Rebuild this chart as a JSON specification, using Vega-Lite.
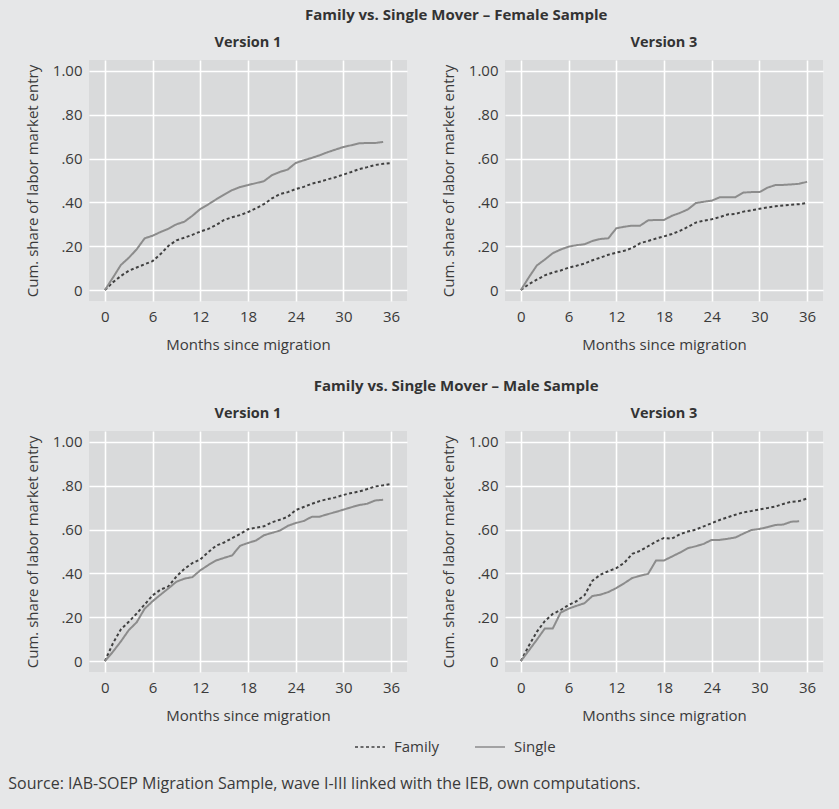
{
  "$schema": "https://vega.github.io/schema/vega-lite/v6.json",
  "background": "#e6e7e8",
  "padding": {"left": 8, "top": 7, "right": 16, "bottom": 17},
  "title": {"text": "Source: IAB-SOEP Migration Sample, wave I-III linked with the IEB, own computations.", "orient": "bottom", "anchor": "start", "fontSize": 16, "fontWeight": "normal", "font": "Open Sans", "color": "#3a3a3a", "offset": 21, "dx": -17},
  "datasets": {
    "f1": [
      {"group":"Family","month":0,"share":0},{"group":"Family","month":1,"share":0.035},{"group":"Family","month":2,"share":0.064},{"group":"Family","month":3,"share":0.088},{"group":"Family","month":4,"share":0.103},{"group":"Family","month":5,"share":0.118},{"group":"Family","month":6,"share":0.132},{"group":"Family","month":7,"share":0.164},{"group":"Family","month":8,"share":0.202},{"group":"Family","month":9,"share":0.227},{"group":"Family","month":10,"share":0.239},{"group":"Family","month":11,"share":0.252},{"group":"Family","month":12,"share":0.267},{"group":"Family","month":13,"share":0.279},{"group":"Family","month":14,"share":0.297},{"group":"Family","month":15,"share":0.32},{"group":"Family","month":16,"share":0.332},{"group":"Family","month":17,"share":0.342},{"group":"Family","month":18,"share":0.356},{"group":"Family","month":19,"share":0.373},{"group":"Family","month":20,"share":0.392},{"group":"Family","month":21,"share":0.418},{"group":"Family","month":22,"share":0.438},{"group":"Family","month":23,"share":0.447},{"group":"Family","month":24,"share":0.461},{"group":"Family","month":25,"share":0.471},{"group":"Family","month":26,"share":0.485},{"group":"Family","month":27,"share":0.494},{"group":"Family","month":28,"share":0.505},{"group":"Family","month":29,"share":0.515},{"group":"Family","month":30,"share":0.527},{"group":"Family","month":31,"share":0.539},{"group":"Family","month":32,"share":0.552},{"group":"Family","month":33,"share":0.561},{"group":"Family","month":34,"share":0.571},{"group":"Family","month":35,"share":0.576},{"group":"Family","month":36,"share":0.58},
      {"group":"Single","month":0,"share":0},{"group":"Single","month":1,"share":0.056},{"group":"Single","month":2,"share":0.114},{"group":"Single","month":3,"share":0.147},{"group":"Single","month":4,"share":0.186},{"group":"Single","month":5,"share":0.236},{"group":"Single","month":6,"share":0.248},{"group":"Single","month":7,"share":0.265},{"group":"Single","month":8,"share":0.28},{"group":"Single","month":9,"share":0.3},{"group":"Single","month":10,"share":0.312},{"group":"Single","month":11,"share":0.339},{"group":"Single","month":12,"share":0.37},{"group":"Single","month":13,"share":0.391},{"group":"Single","month":14,"share":0.414},{"group":"Single","month":15,"share":0.436},{"group":"Single","month":16,"share":0.456},{"group":"Single","month":17,"share":0.47},{"group":"Single","month":18,"share":0.479},{"group":"Single","month":19,"share":0.488},{"group":"Single","month":20,"share":0.497},{"group":"Single","month":21,"share":0.524},{"group":"Single","month":22,"share":0.539},{"group":"Single","month":23,"share":0.55},{"group":"Single","month":24,"share":0.58},{"group":"Single","month":25,"share":0.592},{"group":"Single","month":26,"share":0.603},{"group":"Single","month":27,"share":0.615},{"group":"Single","month":28,"share":0.629},{"group":"Single","month":29,"share":0.641},{"group":"Single","month":30,"share":0.653},{"group":"Single","month":31,"share":0.661},{"group":"Single","month":32,"share":0.67},{"group":"Single","month":33,"share":0.671},{"group":"Single","month":34,"share":0.671},{"group":"Single","month":35,"share":0.676}
    ],
    "f3": [
      {"group":"Family","month":0,"share":0},{"group":"Family","month":1,"share":0.027},{"group":"Family","month":2,"share":0.047},{"group":"Family","month":3,"share":0.067},{"group":"Family","month":4,"share":0.08},{"group":"Family","month":5,"share":0.089},{"group":"Family","month":6,"share":0.102},{"group":"Family","month":7,"share":0.111},{"group":"Family","month":8,"share":0.121},{"group":"Family","month":9,"share":0.136},{"group":"Family","month":10,"share":0.148},{"group":"Family","month":11,"share":0.161},{"group":"Family","month":12,"share":0.171},{"group":"Family","month":13,"share":0.179},{"group":"Family","month":14,"share":0.192},{"group":"Family","month":15,"share":0.214},{"group":"Family","month":16,"share":0.224},{"group":"Family","month":17,"share":0.235},{"group":"Family","month":18,"share":0.245},{"group":"Family","month":19,"share":0.256},{"group":"Family","month":20,"share":0.27},{"group":"Family","month":21,"share":0.288},{"group":"Family","month":22,"share":0.308},{"group":"Family","month":23,"share":0.317},{"group":"Family","month":24,"share":0.323},{"group":"Family","month":25,"share":0.333},{"group":"Family","month":26,"share":0.345},{"group":"Family","month":27,"share":0.348},{"group":"Family","month":28,"share":0.358},{"group":"Family","month":29,"share":0.364},{"group":"Family","month":30,"share":0.371},{"group":"Family","month":31,"share":0.377},{"group":"Family","month":32,"share":0.382},{"group":"Family","month":33,"share":0.386},{"group":"Family","month":34,"share":0.389},{"group":"Family","month":35,"share":0.392},{"group":"Family","month":36,"share":0.397},
      {"group":"Single","month":0,"share":0},{"group":"Single","month":1,"share":0.058},{"group":"Single","month":2,"share":0.112},{"group":"Single","month":3,"share":0.139},{"group":"Single","month":4,"share":0.168},{"group":"Single","month":5,"share":0.185},{"group":"Single","month":6,"share":0.198},{"group":"Single","month":7,"share":0.205},{"group":"Single","month":8,"share":0.209},{"group":"Single","month":9,"share":0.224},{"group":"Single","month":10,"share":0.233},{"group":"Single","month":11,"share":0.236},{"group":"Single","month":12,"share":0.282},{"group":"Single","month":13,"share":0.289},{"group":"Single","month":14,"share":0.294},{"group":"Single","month":15,"share":0.294},{"group":"Single","month":16,"share":0.318},{"group":"Single","month":17,"share":0.32},{"group":"Single","month":18,"share":0.32},{"group":"Single","month":19,"share":0.339},{"group":"Single","month":20,"share":0.352},{"group":"Single","month":21,"share":0.368},{"group":"Single","month":22,"share":0.397},{"group":"Single","month":23,"share":0.403},{"group":"Single","month":24,"share":0.408},{"group":"Single","month":25,"share":0.423},{"group":"Single","month":26,"share":0.423},{"group":"Single","month":27,"share":0.424},{"group":"Single","month":28,"share":0.445},{"group":"Single","month":29,"share":0.447},{"group":"Single","month":30,"share":0.447},{"group":"Single","month":31,"share":0.467},{"group":"Single","month":32,"share":0.479},{"group":"Single","month":33,"share":0.48},{"group":"Single","month":34,"share":0.482},{"group":"Single","month":35,"share":0.485},{"group":"Single","month":36,"share":0.494}
    ],
    "m1": [
      {"group":"Family","month":0,"share":0},{"group":"Family","month":1,"share":0.08},{"group":"Family","month":2,"share":0.144},{"group":"Family","month":3,"share":0.179},{"group":"Family","month":4,"share":0.217},{"group":"Family","month":5,"share":0.258},{"group":"Family","month":6,"share":0.3},{"group":"Family","month":7,"share":0.326},{"group":"Family","month":8,"share":0.341},{"group":"Family","month":9,"share":0.386},{"group":"Family","month":10,"share":0.421},{"group":"Family","month":11,"share":0.447},{"group":"Family","month":12,"share":0.464},{"group":"Family","month":13,"share":0.497},{"group":"Family","month":14,"share":0.527},{"group":"Family","month":15,"share":0.541},{"group":"Family","month":16,"share":0.561},{"group":"Family","month":17,"share":0.58},{"group":"Family","month":18,"share":0.602},{"group":"Family","month":19,"share":0.609},{"group":"Family","month":20,"share":0.615},{"group":"Family","month":21,"share":0.633},{"group":"Family","month":22,"share":0.645},{"group":"Family","month":23,"share":0.658},{"group":"Family","month":24,"share":0.689},{"group":"Family","month":25,"share":0.703},{"group":"Family","month":26,"share":0.717},{"group":"Family","month":27,"share":0.73},{"group":"Family","month":28,"share":0.739},{"group":"Family","month":29,"share":0.747},{"group":"Family","month":30,"share":0.758},{"group":"Family","month":31,"share":0.767},{"group":"Family","month":32,"share":0.774},{"group":"Family","month":33,"share":0.785},{"group":"Family","month":34,"share":0.797},{"group":"Family","month":35,"share":0.802},{"group":"Family","month":36,"share":0.808},
      {"group":"Single","month":0,"share":0},{"group":"Single","month":1,"share":0.042},{"group":"Single","month":2,"share":0.089},{"group":"Single","month":3,"share":0.141},{"group":"Single","month":4,"share":0.177},{"group":"Single","month":5,"share":0.239},{"group":"Single","month":6,"share":0.273},{"group":"Single","month":7,"share":0.303},{"group":"Single","month":8,"share":0.332},{"group":"Single","month":9,"share":0.362},{"group":"Single","month":10,"share":0.376},{"group":"Single","month":11,"share":0.383},{"group":"Single","month":12,"share":0.414},{"group":"Single","month":13,"share":0.438},{"group":"Single","month":14,"share":0.459},{"group":"Single","month":15,"share":0.471},{"group":"Single","month":16,"share":0.482},{"group":"Single","month":17,"share":0.526},{"group":"Single","month":18,"share":0.539},{"group":"Single","month":19,"share":0.55},{"group":"Single","month":20,"share":0.574},{"group":"Single","month":21,"share":0.585},{"group":"Single","month":22,"share":0.595},{"group":"Single","month":23,"share":0.617},{"group":"Single","month":24,"share":0.63},{"group":"Single","month":25,"share":0.639},{"group":"Single","month":26,"share":0.658},{"group":"Single","month":27,"share":0.659},{"group":"Single","month":28,"share":0.67},{"group":"Single","month":29,"share":0.68},{"group":"Single","month":30,"share":0.691},{"group":"Single","month":31,"share":0.702},{"group":"Single","month":32,"share":0.712},{"group":"Single","month":33,"share":0.718},{"group":"Single","month":34,"share":0.733},{"group":"Single","month":35,"share":0.736}
    ],
    "m3": [
      {"group":"Family","month":0,"share":0},{"group":"Family","month":1,"share":0.07},{"group":"Family","month":2,"share":0.133},{"group":"Family","month":3,"share":0.182},{"group":"Family","month":4,"share":0.215},{"group":"Family","month":5,"share":0.233},{"group":"Family","month":6,"share":0.256},{"group":"Family","month":7,"share":0.273},{"group":"Family","month":8,"share":0.3},{"group":"Family","month":9,"share":0.367},{"group":"Family","month":10,"share":0.394},{"group":"Family","month":11,"share":0.41},{"group":"Family","month":12,"share":0.424},{"group":"Family","month":13,"share":0.448},{"group":"Family","month":14,"share":0.489},{"group":"Family","month":15,"share":0.503},{"group":"Family","month":16,"share":0.524},{"group":"Family","month":17,"share":0.545},{"group":"Family","month":18,"share":0.562},{"group":"Family","month":19,"share":0.559},{"group":"Family","month":20,"share":0.579},{"group":"Family","month":21,"share":0.591},{"group":"Family","month":22,"share":0.6},{"group":"Family","month":23,"share":0.615},{"group":"Family","month":24,"share":0.629},{"group":"Family","month":25,"share":0.644},{"group":"Family","month":26,"share":0.656},{"group":"Family","month":27,"share":0.668},{"group":"Family","month":28,"share":0.679},{"group":"Family","month":29,"share":0.685},{"group":"Family","month":30,"share":0.692},{"group":"Family","month":31,"share":0.698},{"group":"Family","month":32,"share":0.705},{"group":"Family","month":33,"share":0.717},{"group":"Family","month":34,"share":0.727},{"group":"Family","month":35,"share":0.73},{"group":"Family","month":36,"share":0.742},
      {"group":"Single","month":0,"share":0},{"group":"Single","month":1,"share":0.048},{"group":"Single","month":2,"share":0.097},{"group":"Single","month":3,"share":0.148},{"group":"Single","month":4,"share":0.148},{"group":"Single","month":5,"share":0.221},{"group":"Single","month":6,"share":0.239},{"group":"Single","month":7,"share":0.252},{"group":"Single","month":8,"share":0.264},{"group":"Single","month":9,"share":0.297},{"group":"Single","month":10,"share":0.303},{"group":"Single","month":11,"share":0.315},{"group":"Single","month":12,"share":0.333},{"group":"Single","month":13,"share":0.355},{"group":"Single","month":14,"share":0.379},{"group":"Single","month":15,"share":0.389},{"group":"Single","month":16,"share":0.398},{"group":"Single","month":17,"share":0.459},{"group":"Single","month":18,"share":0.459},{"group":"Single","month":19,"share":0.477},{"group":"Single","month":20,"share":0.495},{"group":"Single","month":21,"share":0.515},{"group":"Single","month":22,"share":0.524},{"group":"Single","month":23,"share":0.535},{"group":"Single","month":24,"share":0.553},{"group":"Single","month":25,"share":0.553},{"group":"Single","month":26,"share":0.558},{"group":"Single","month":27,"share":0.564},{"group":"Single","month":28,"share":0.582},{"group":"Single","month":29,"share":0.598},{"group":"Single","month":30,"share":0.603},{"group":"Single","month":31,"share":0.611},{"group":"Single","month":32,"share":0.621},{"group":"Single","month":33,"share":0.623},{"group":"Single","month":34,"share":0.636},{"group":"Single","month":35,"share":0.638}
    ]
  },
  "spacing": 26,
  "vconcat": [
    {
      "title": {"text": "Family vs. Single Mover – Female Sample", "fontSize": 15, "fontWeight": "bold", "anchor": "middle", "offset": 12, "dx": 32},
      "spacing": 34,
      "hconcat": [
        {"title": "Version 1", "data": {"name": "f1"}, "width": 318, "height": 241, "mark": {"type": "line", "strokeWidth": 2},
         "encoding": {
           "x": {"field": "month", "type": "quantitative", "scale": {"domain": [-2, 38], "nice": false, "zero": false}, "axis": {"values": [0,6,12,18,24,30,36], "title": "Months since migration"}},
           "y": {"field": "share", "type": "quantitative", "scale": {"domain": [-0.05, 1.05], "nice": false, "zero": false}, "axis": {"values": [0,0.2,0.4,0.6,0.8,1], "labelExpr": "datum.value == 0 ? '0' : replace(format(datum.value, '.2f'), '0.', '.')", "title": "Cum. share of labor market entry"}},
           "color": {"field": "group", "type": "nominal", "scale": {"domain": ["Family","Single"], "range": ["#404040","#8c8c8c"]}, "legend": {"orient": "none", "legendX": 265, "legendY": 671, "direction": "horizontal", "title": null}},
           "strokeDash": {"field": "group", "type": "nominal", "scale": {"domain": ["Family","Single"], "range": [[3,2.5],[1,0]]}, "legend": {"orient": "none", "legendX": 265, "legendY": 671, "direction": "horizontal", "title": null}}
         }},
        {"title": "Version 3", "data": {"name": "f3"}, "width": 318, "height": 241, "mark": {"type": "line", "strokeWidth": 2},
         "encoding": {
           "x": {"field": "month", "type": "quantitative", "scale": {"domain": [-2, 38], "nice": false, "zero": false}, "axis": {"values": [0,6,12,18,24,30,36], "title": "Months since migration"}},
           "y": {"field": "share", "type": "quantitative", "scale": {"domain": [-0.05, 1.05], "nice": false, "zero": false}, "axis": {"values": [0,0.2,0.4,0.6,0.8,1], "labelExpr": "datum.value == 0 ? '0' : replace(format(datum.value, '.2f'), '0.', '.')", "title": "Cum. share of labor market entry"}},
           "color": {"field": "group", "type": "nominal", "scale": {"domain": ["Family","Single"], "range": ["#404040","#8c8c8c"]}, "legend": {"orient": "none", "legendX": 265, "legendY": 671, "direction": "horizontal", "title": null}},
           "strokeDash": {"field": "group", "type": "nominal", "scale": {"domain": ["Family","Single"], "range": [[3,2.5],[1,0]]}, "legend": {"orient": "none", "legendX": 265, "legendY": 671, "direction": "horizontal", "title": null}}
         }}
      ]
    },
    {
      "title": {"text": "Family vs. Single Mover – Male Sample", "fontSize": 15, "fontWeight": "bold", "anchor": "middle", "offset": 12, "dx": 32},
      "spacing": 34,
      "hconcat": [
        {"title": "Version 1", "data": {"name": "m1"}, "width": 318, "height": 241, "mark": {"type": "line", "strokeWidth": 2},
         "encoding": {
           "x": {"field": "month", "type": "quantitative", "scale": {"domain": [-2, 38], "nice": false, "zero": false}, "axis": {"values": [0,6,12,18,24,30,36], "title": "Months since migration"}},
           "y": {"field": "share", "type": "quantitative", "scale": {"domain": [-0.05, 1.05], "nice": false, "zero": false}, "axis": {"values": [0,0.2,0.4,0.6,0.8,1], "labelExpr": "datum.value == 0 ? '0' : replace(format(datum.value, '.2f'), '0.', '.')", "title": "Cum. share of labor market entry"}},
           "color": {"field": "group", "type": "nominal", "scale": {"domain": ["Family","Single"], "range": ["#404040","#8c8c8c"]}, "legend": {"orient": "none", "legendX": 265, "legendY": 671, "direction": "horizontal", "title": null}},
           "strokeDash": {"field": "group", "type": "nominal", "scale": {"domain": ["Family","Single"], "range": [[3,2.5],[1,0]]}, "legend": {"orient": "none", "legendX": 265, "legendY": 671, "direction": "horizontal", "title": null}}
         }},
        {"title": "Version 3", "data": {"name": "m3"}, "width": 318, "height": 241, "mark": {"type": "line", "strokeWidth": 2},
         "encoding": {
           "x": {"field": "month", "type": "quantitative", "scale": {"domain": [-2, 38], "nice": false, "zero": false}, "axis": {"values": [0,6,12,18,24,30,36], "title": "Months since migration"}},
           "y": {"field": "share", "type": "quantitative", "scale": {"domain": [-0.05, 1.05], "nice": false, "zero": false}, "axis": {"values": [0,0.2,0.4,0.6,0.8,1], "labelExpr": "datum.value == 0 ? '0' : replace(format(datum.value, '.2f'), '0.', '.')", "title": "Cum. share of labor market entry"}},
           "color": {"field": "group", "type": "nominal", "scale": {"domain": ["Family","Single"], "range": ["#404040","#8c8c8c"]}, "legend": {"orient": "none", "legendX": 265, "legendY": 671, "direction": "horizontal", "title": null}},
           "strokeDash": {"field": "group", "type": "nominal", "scale": {"domain": ["Family","Single"], "range": [[3,2.5],[1,0]]}, "legend": {"orient": "none", "legendX": 265, "legendY": 671, "direction": "horizontal", "title": null}}
         }}
      ]
    }
  ],
  "config": {
    "font": "Open Sans",
    "view": {"fill": "#d9dadb", "stroke": null},
    "title": {"font": "Open Sans", "fontSize": 14.5, "fontWeight": "bold", "color": "#333333", "offset": 10},
    "axis": {"domain": false, "ticks": false, "grid": true, "gridColor": "#ffffff", "gridWidth": 1.6, "gridOpacity": 1, "labelFont": "Open Sans", "labelFontSize": 15, "labelColor": "#3a3a3a", "labelPadding": 8, "titleFont": "Open Sans", "titleFontSize": 15, "titleFontWeight": "normal", "titleColor": "#3a3a3a", "titlePadding": 13},
    "axisY": {"titlePadding": 12, "labelPadding": 7},
    "legend": {"labelFont": "Open Sans", "labelFontSize": 15, "labelColor": "#3a3a3a", "symbolType": "stroke", "symbolSize": 900, "symbolStrokeWidth": 1.6, "columnPadding": 31, "labelOffset": 8}
  }
}
